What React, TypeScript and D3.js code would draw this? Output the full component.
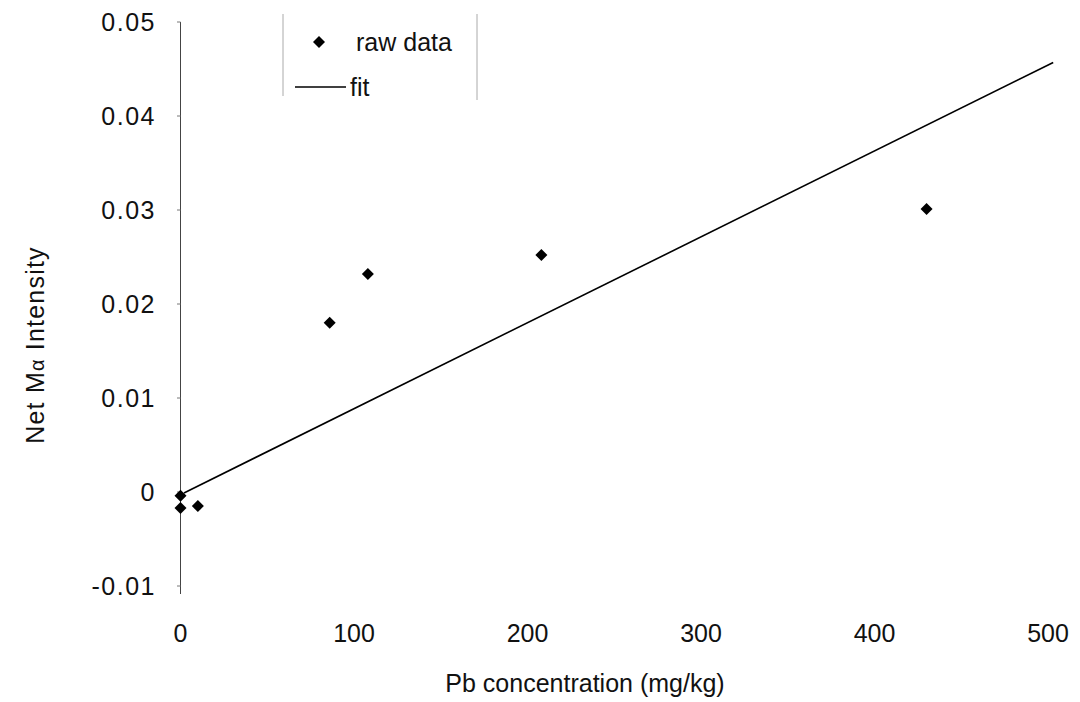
import React from "react";
import * as d3 from "d3";

const concentration = [0, 0, 10, 86, 108, 208, 430];
const intensity = [-0.0004, -0.0017, -0.0015, 0.018, 0.0232, 0.0252, 0.0301];
const fitX = [2, 503];
const fitY = [-0.0001, 0.0457];
const xTicks = [0, 100, 200, 300, 400, 500];
const yTicks = [-0.01, 0, 0.01, 0.02, 0.03, 0.04, 0.05];
const yTickLabels = ["-0.01", "0", "0.01", "0.02", "0.03", "0.04", "0.05"];

const W = 1080;
const H = 702;
const FONT = "'Liberation Sans', Arial, sans-serif";

export default function App() {
  const x = d3.scaleLinear().domain([0, 500]).range([180.5, 1048]);
  const y = d3.scaleLinear().domain([-0.01, 0.05]).range([586, 22]);
  const diamond = d3.symbol().type(d3.symbolSquare).size(72)();
  const fitLine = d3
    .line<number>()
    .x((d) => x(d))
    .y((_, i) => y(fitY[i]))(fitX);

  return (
    <svg
      width={W}
      height={H}
      style={{ position: "absolute", left: 0, top: 0, background: "#fff" }}
      fontFamily={FONT}
    >
      <rect width={W} height={H} fill="#fff" />
      {/* Y axis */}
      <line x1={180.5} x2={180.5} y1={22} y2={594} stroke="#444" strokeWidth={1} />
      {yTicks.map((t, i) => (
        <g key={t}>
          <line x1={177} x2={180.5} y1={y(t)} y2={y(t)} stroke="#777" strokeWidth={1} />
          <text
            x={156}
            y={y(t)}
            dy="0.36em"
            textAnchor="end"
            fontSize={25}
            letterSpacing={1.5}
            fill="#111"
          >
            {yTickLabels[i]}
          </text>
        </g>
      ))}
      {/* X tick labels */}
      {xTicks.map((t) => (
        <text
          key={t}
          x={x(t)}
          y={633}
          dy="0.36em"
          textAnchor="middle"
          fontSize={25}
          fill="#111"
        >
          {t}
        </text>
      ))}
      {/* Axis titles */}
      <text x={585} y={683} dy="0.36em" textAnchor="middle" fontSize={25} fill="#111">
        Pb concentration (mg/kg)
      </text>
      <text
        transform="translate(35,345) rotate(-90)"
        textAnchor="middle"
        dy="0.36em"
        fontSize={25}
        letterSpacing={1.2}
        fill="#111"
      >
        Net M<tspan fontSize={20}>α</tspan> Intensity
      </text>
      {/* Fit line */}
      <path d={fitLine ?? ""} fill="none" stroke="#000" strokeWidth={1.6} />
      {/* Points */}
      {concentration.map((c, i) => (
        <path
          key={i}
          d={diamond ?? ""}
          transform={`translate(${x(c)},${y(intensity[i])}) rotate(45)`}
          fill="#000"
        />
      ))}
      {/* Legend */}
      <line x1={283} x2={283} y1={14} y2={96} stroke="#aaa" strokeWidth={1} />
      <line x1={477} x2={477} y1={14} y2={100} stroke="#aaa" strokeWidth={1} />
      <path d={diamond ?? ""} transform="translate(319,42) rotate(45)" fill="#000" />
      <text x={356} y={42} dy="0.36em" fontSize={25} fill="#111">
        raw data
      </text>
      <line x1={295} x2={346} y1={87} y2={87} stroke="#000" strokeWidth={1.6} />
      <text x={350} y={87} dy="0.36em" fontSize={25} fill="#111">
        fit
      </text>
    </svg>
  );
}
